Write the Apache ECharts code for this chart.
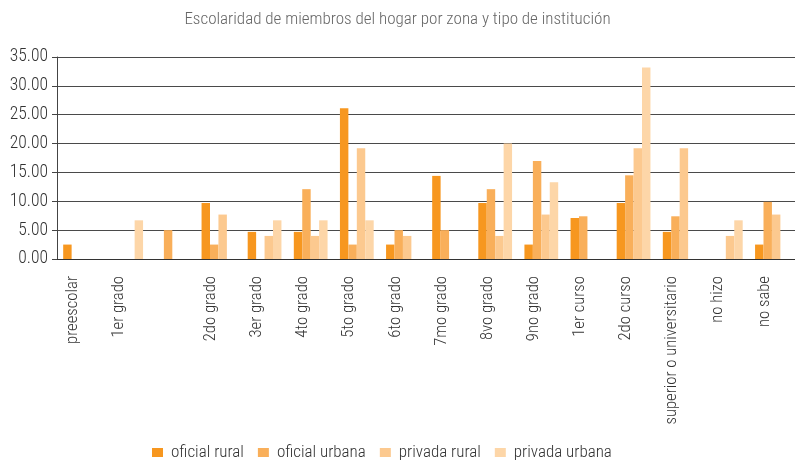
<!DOCTYPE html>
<html>
<head>
<meta charset="utf-8">
<script src="https://cdn.jsdelivr.net/npm/echarts@6/dist/echarts.min.js"></script>
<style>
  html, body { margin: 0; padding: 0; background: #fff; }
  #chart { width: 795px; height: 463px; }
</style>
</head>
<body>
<div id="chart"></div>
<script>
// Education level of household members, by zone and type of institution (%)
const categories = [
  'preescolar', '1er grado', '', '2do grado', '3er grado', '4to grado', '5to grado',
  '6to grado', '7mo grado', '8vo grado', '9no grado', '1er curso', '2do curso',
  'superior o universitario', 'no hizo', 'no sabe'
];
const seriesNames = ['oficial rural', 'oficial urbana', 'privada rural', 'privada urbana'];
const oficialRural  = [2.5, null, null, 9.7, 4.7, 4.7, 26.1, 2.5, 14.4, 9.7, 2.5, 7.1, 9.7, 4.7, null, 2.5];
const oficialUrbana = [null, null, 5.0, 2.5, null, 12.1, 2.5, 5.0, 5.0, 12.1, 17.0, 7.4, 14.5, 7.4, null, 9.9];
const privadaRural  = [null, null, null, 7.7, 4.0, 4.0, 19.2, 4.0, null, 4.0, 7.7, null, 19.2, 19.2, 4.0, 7.7];
const privadaUrbana = [null, 6.7, null, null, 6.7, 6.7, 6.7, null, null, 20.0, 13.3, null, 33.2, null, 6.7, null];
const yTicks = { min: 0, max: 35, interval: 5 };

const palette = ['#F7971F', '#F9AF5A', '#FCC98F', '#FDD6A8'];
const values = [oficialRural, oficialUrbana, privadaRural, privadaUrbana];
const FONT = '"Roboto Condensed", "Liberation Sans Narrow", sans-serif';

const chart = echarts.init(document.getElementById('chart'), null, { renderer: 'canvas' });
chart.setOption({
  animation: false,
  backgroundColor: '#ffffff',
  color: palette,
  title: {
    text: 'Escolaridad de miembros del hogar por zona y tipo de institución',
    left: 'center',
    top: 6,
    textStyle: { fontFamily: FONT, fontSize: 17, fontWeight: 300, color: '#666666' }
  },
  legend: {
    data: seriesNames,
    left: 147,
    top: 439,
    icon: 'rect',
    itemWidth: 11,
    itemHeight: 9,
    itemGap: 14,
    textStyle: { fontFamily: FONT, fontSize: 17, fontWeight: 300, color: '#333333', padding: [0, 0, 0, 3] }
  },
  grid: { left: 57, top: 57, width: 743, height: 202 },
  xAxis: {
    type: 'category',
    data: categories,
    axisLine: { show: true, lineStyle: { color: '#333333', width: 1 } },
    axisTick: { show: false },
    axisLabel: {
      interval: 0,
      rotate: 90,
      margin: 17,
      verticalAlign: 'bottom',
      lineHeight: 15,
      fontFamily: FONT,
      fontSize: 16.7,
      fontWeight: 300,
      color: '#333333'
    },
    splitLine: { show: false }
  },
  yAxis: {
    type: 'value',
    min: yTicks.min,
    max: yTicks.max,
    interval: yTicks.interval,
    axisLine: { show: true, lineStyle: { color: '#444444', width: 1 } },
    axisTick: { show: true, inside: false, length: 5, lineStyle: { color: '#444444' } },
    axisLabel: {
      margin: 9,
      fontFamily: FONT,
      fontSize: 17.5,
      fontWeight: 300,
      color: '#333333',
      formatter: v => v.toFixed(2)
    },
    splitLine: { show: true, lineStyle: { color: '#4a4a4a', width: 1 } }
  },
  series: seriesNames.map((name, i) => ({
    name: name,
    type: 'bar',
    data: values[i],
    barGap: '0%',
    barCategoryGap: '26.8%',
    itemStyle: { color: palette[i] }
  }))
});
</script>
</body>
</html>
